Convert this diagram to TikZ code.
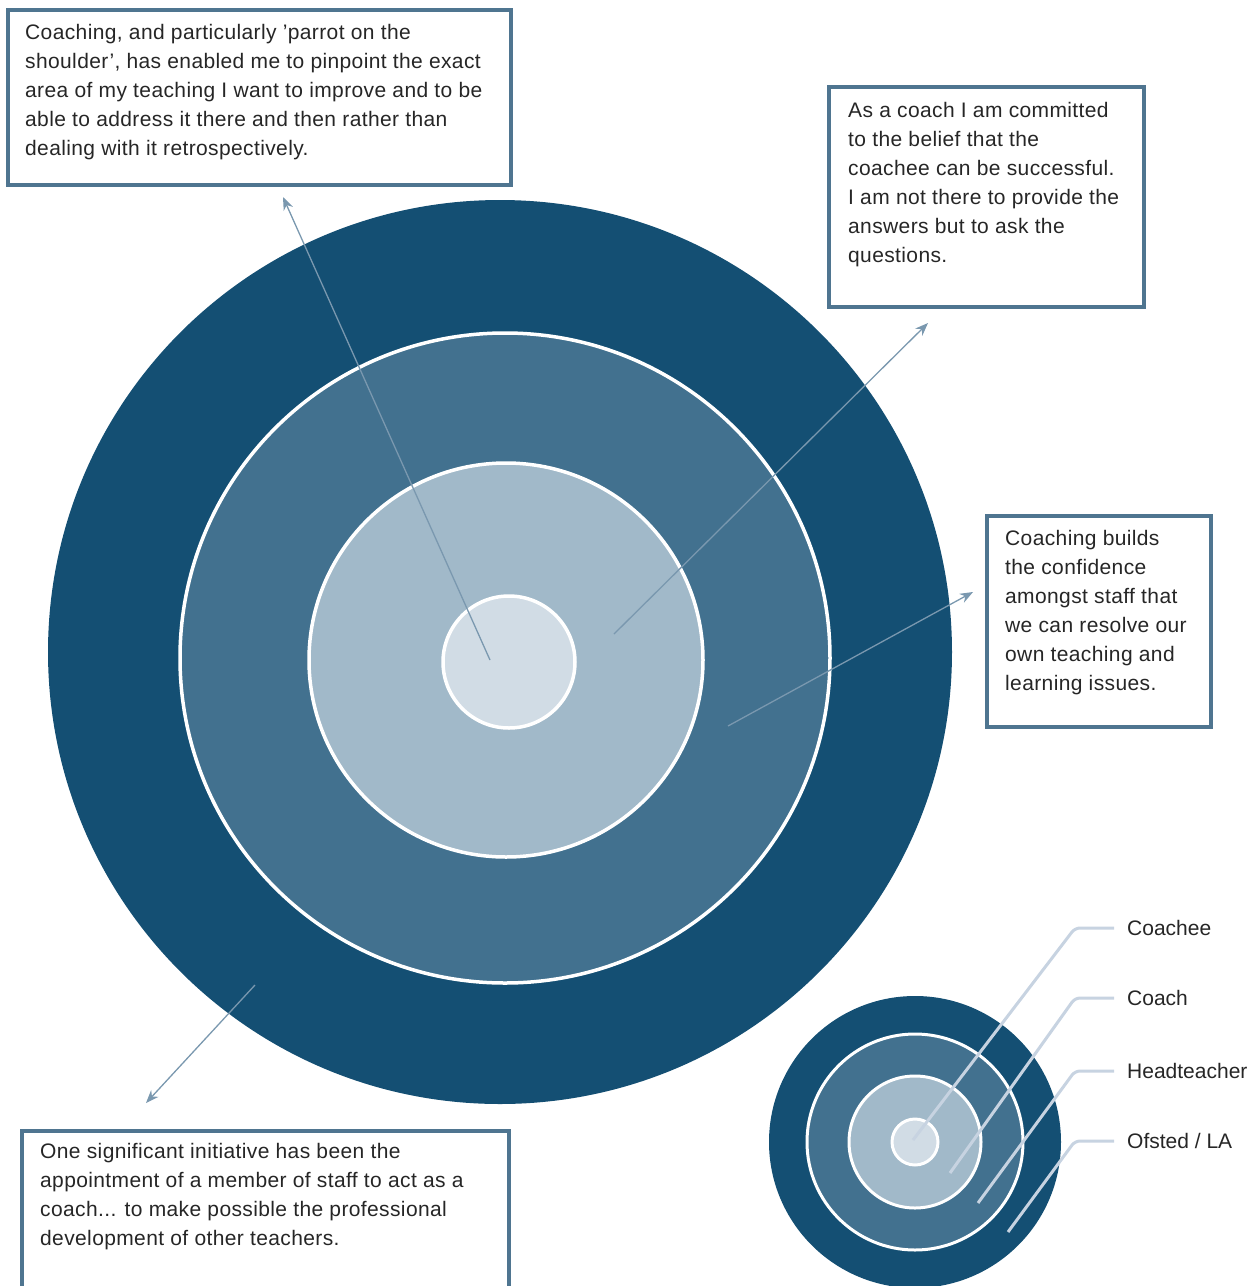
\documentclass[tikz,border=0pt]{standalone}
\usepackage{fontspec}
\setmainfont{Liberation Sans}
\newfontfamily\quotefont[Ligatures=TeX, LetterSpace=1.8]{Liberation Sans}
\usepackage{tikz}
\usetikzlibrary{arrows.meta}
\definecolor{ringOuter}{HTML}{144F73}
\definecolor{ringMid}{HTML}{42718F}
\definecolor{ringLight}{HTML}{A1B9C9}
\definecolor{ringCore}{HTML}{D1DCE5}
\definecolor{frameBlue}{HTML}{4F7590}
\definecolor{arrowBlue}{HTML}{7A98AF}
\definecolor{leaderBlue}{HTML}{C7D3E1}
\definecolor{textGray}{HTML}{262626}
\tikzset{
    quote/.style={anchor=north west, align=left, inner sep=0pt, text=textGray, font=\quotefont\fontsize{21}{29}\selectfont},
    quoteframe/.style={draw=frameBlue, line width=3.5pt},
    pointer/.style={draw=arrowBlue, line width=1.3pt, -{Stealth[length=13pt, width=10pt]}},
    ring/.style={draw=white, line width=3.5pt},
    leader/.style={draw=leaderBlue, line width=3pt, rounded corners=5pt},
    legendlabel/.style={anchor=west, inner xsep=13pt, inner ysep=0pt, text=textGray, font=\fontsize{21}{25}\selectfont}
}

\begin{document}
\begin{tikzpicture}[x=1pt, y=-1pt]
    \useasboundingbox (0,0) rectangle (1254,1286);
    \clip (0,0) rectangle (1254,1286);

    \fill[ringOuter] (500,652) circle (452pt);
    \foreach \r/\c/\cx/\cy in {325/ringMid/505/658, 197/ringLight/506/660, 66/ringCore/509/662}
    {
        \filldraw[ring, fill = \c] (\cx,\cy) circle (\r pt);
    }

    \coordinate (keyhub) at (915,1142);
    \fill[ringOuter] (keyhub) circle (146pt);
    \foreach \r/\c in {108/ringMid, 66/ringLight, 23/ringCore}
    {
        \filldraw[ring, line width=3pt, fill = \c] (keyhub) circle (\r pt);
    }

    \draw[quoteframe] (8,10) rectangle (511,185);
    \node[quote] (quoteParrot) at (25,24) {Coaching, and particularly 'parrot on the\\shoulder', has enabled me to pinpoint the exact\\area of my teaching I want to improve and to be\\able to address it there and then rather than\\dealing with it retrospectively.};

    \draw[quoteframe] (829,87) rectangle (1144,307);
    \node[quote] (quoteCoach) at (848,102) {As a coach I am committed\\to the belief that the\\coachee can be successful.\\I am not there to provide the\\answers but to ask the\\questions.};

    \draw[quoteframe] (987,516) rectangle (1211,727);
    \node[quote] (quoteConfidence) at (1005,530) {Coaching builds\\the confidence\\amongst staff that\\we can resolve our\\own teaching and\\learning issues.};

    \draw[quoteframe] (22,1131) rectangle (509,1310);
    \node[quote] (quoteInitiative) at (40,1143) {One significant initiative has been the\\appointment of a member of staff to act as a\\coach... to make possible the professional\\development of other teachers.};

    \coordinate (srcParrot) at (490,660);
    \coordinate (tipParrot) at (283,197);
    \coordinate (srcCoach) at (614,634);
    \coordinate (tipCoach) at (928,323);
    \coordinate (srcConfidence) at (728,726);
    \coordinate (tipConfidence) at (973,592);
    \coordinate (srcInitiative) at (255,985);
    \coordinate (tipInitiative) at (146,1103);
    \foreach \n in {Parrot, Coach, Confidence, Initiative}
    {
        \draw[pointer] (src\n) -- (tip\n);
    }

    \node[legendlabel] (lblCoachee) at (1114,928) {Coachee};
    \node[legendlabel] (lblCoach) at (1114,998) {Coach};
    \node[legendlabel] (lblHead) at (1114,1071) {Headteacher};
    \node[legendlabel] (lblOfsted) at (1114,1141) {Ofsted / LA};

    \coordinate (elbow) at (1075,0);
    \coordinate (pinCoachee) at (913,1140);
    \coordinate (pinCoach) at (950,1173);
    \coordinate (pinHead) at (978,1203);
    \coordinate (pinOfsted) at (1008,1232);
    \foreach \n in {Coachee, Coach, Head, Ofsted}
    {
        \draw[leader] (pin\n) -- (elbow |- lbl\n.west) -- (lbl\n.west);
    }
\end{tikzpicture}
\end{document}
